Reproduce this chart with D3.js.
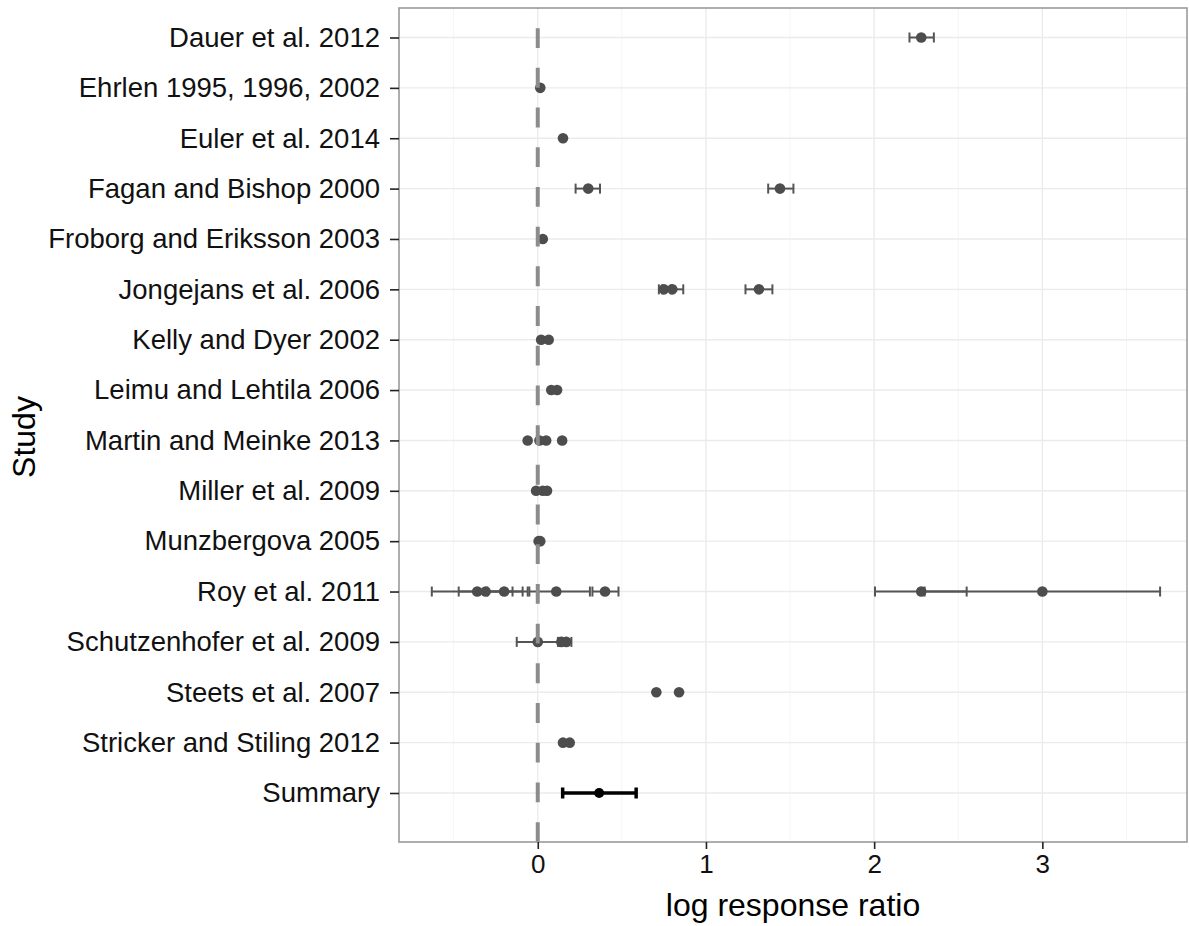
<!DOCTYPE html>
<html>
<head>
<meta charset="utf-8">
<script src="https://cdn.jsdelivr.net/npm/d3@7"></script>
<style>
  html, body { margin: 0; padding: 0; background: #fff; }
  svg { display: block; font-family: "Liberation Sans", Arial, sans-serif; }
</style>
</head>
<body>
<svg id="chart" width="1189" height="926"></svg>
<script>
// Study labels, top to bottom
const studies = [
  "Dauer et al. 2012",
  "Ehrlen 1995, 1996, 2002",
  "Euler et al. 2014",
  "Fagan and Bishop 2000",
  "Froborg and Eriksson 2003",
  "Jongejans et al. 2006",
  "Kelly and Dyer 2002",
  "Leimu and Lehtila 2006",
  "Martin and Meinke 2013",
  "Miller et al. 2009",
  "Munzbergova 2005",
  "Roy et al. 2011",
  "Schutzenhofer et al. 2009",
  "Steets et al. 2007",
  "Stricker and Stiling 2012",
  "Summary"
];

// Individual effect sizes (log response ratio) and their study
const effectStudy = [
  "Dauer et al. 2012",
  "Ehrlen 1995, 1996, 2002",
  "Euler et al. 2014",
  "Fagan and Bishop 2000", "Fagan and Bishop 2000",
  "Froborg and Eriksson 2003",
  "Jongejans et al. 2006", "Jongejans et al. 2006", "Jongejans et al. 2006",
  "Kelly and Dyer 2002", "Kelly and Dyer 2002",
  "Leimu and Lehtila 2006", "Leimu and Lehtila 2006",
  "Martin and Meinke 2013", "Martin and Meinke 2013", "Martin and Meinke 2013", "Martin and Meinke 2013",
  "Miller et al. 2009", "Miller et al. 2009", "Miller et al. 2009",
  "Munzbergova 2005", "Munzbergova 2005",
  "Roy et al. 2011", "Roy et al. 2011", "Roy et al. 2011", "Roy et al. 2011",
  "Roy et al. 2011", "Roy et al. 2011", "Roy et al. 2011",
  "Schutzenhofer et al. 2009", "Schutzenhofer et al. 2009", "Schutzenhofer et al. 2009",
  "Steets et al. 2007", "Steets et al. 2007",
  "Stricker and Stiling 2012", "Stricker and Stiling 2012"
];
const effectValue = [
  2.28,
  0.015,
  0.15,
  0.30, 1.44,
  0.03,
  0.75, 0.80, 1.315,
  0.02, 0.065,
  0.08, 0.115,
  -0.06, 0.01, 0.05, 0.145,
  -0.01, 0.03, 0.055,
  0.005, 0.015,
  -0.36, -0.31, -0.20, 0.11, 0.40, 2.28, 3.00,
  0.00, 0.14, 0.17,
  0.705, 0.84,
  0.15, 0.19
];
// 95% confidence limits (null where no interval is drawn)
const ciLower = [
  2.21,
  null,
  null,
  0.225, 1.37,
  null,
  0.72, 0.74, 1.235,
  null, null,
  null, null,
  null, null, null, null,
  null, null, null,
  null, null,
  -0.63, -0.47, -0.30, -0.05, 0.325, 2.005, 2.30,
  -0.125, 0.12, 0.145,
  null, null,
  null, null
];
const ciUpper = [
  2.355,
  null,
  null,
  0.37, 1.52,
  null,
  0.79, 0.865, 1.395,
  null, null,
  null, null,
  null, null, null, null,
  null, null, null,
  null, null,
  -0.09, -0.15, -0.06, 0.31, 0.48, 2.55, 3.70,
  0.13, 0.165, 0.20,
  null, null,
  null, null
];

// Pooled estimate
const summaryValue = 0.365;
const summaryLower = 0.148;
const summaryUpper = 0.585;

const xTicks = [0, 1, 2, 3];
const xMinorTicks = [-0.5, 0.5, 1.5, 2.5, 3.5];
const xDomain = [-0.825, 3.86];

// Layout
const panel = { left: 399, right: 1187, top: 8, bottom: 842 };

const svg = d3.select("#chart");

const x = d3.scaleLinear().domain(xDomain).range([panel.left, panel.right]);
const y = d3.scalePoint().domain(studies).range([panel.top + 29.5, panel.bottom - 49]);

// Panel background
svg.append("rect")
  .attr("x", panel.left).attr("y", panel.top)
  .attr("width", panel.right - panel.left).attr("height", panel.bottom - panel.top)
  .attr("fill", "#fff");

const grid = svg.append("g");
grid.selectAll("line.minor").data(xMinorTicks).join("line")
  .attr("class", "minor")
  .attr("x1", d => x(d)).attr("x2", d => x(d))
  .attr("y1", panel.top).attr("y2", panel.bottom)
  .attr("stroke", "#f5f5f5").attr("stroke-width", 1);
grid.selectAll("line.vmajor").data(xTicks).join("line")
  .attr("class", "vmajor")
  .attr("x1", d => x(d)).attr("x2", d => x(d))
  .attr("y1", panel.top).attr("y2", panel.bottom)
  .attr("stroke", "#ebebeb").attr("stroke-width", 1.4);
grid.selectAll("line.hmajor").data(studies).join("line")
  .attr("class", "hmajor")
  .attr("x1", panel.left).attr("x2", panel.right)
  .attr("y1", d => y(d)).attr("y2", d => y(d))
  .attr("stroke", "#ebebeb").attr("stroke-width", 1.4);

// Study effects with confidence intervals
const effects = effectValue.map((v, i) => ({
  study: effectStudy[i], value: v, lo: ciLower[i], hi: ciUpper[i]
}));
const withCI = effects.filter(d => d.lo !== null);
const capH = 5;
const eb = svg.append("g").attr("stroke", "#555").attr("stroke-width", 2);
eb.selectAll("line.bar").data(withCI).join("line")
  .attr("x1", d => x(d.lo)).attr("x2", d => x(d.hi))
  .attr("y1", d => y(d.study)).attr("y2", d => y(d.study));
eb.selectAll("line.capl").data(withCI).join("line")
  .attr("class", "capl")
  .attr("x1", d => x(d.lo)).attr("x2", d => x(d.lo))
  .attr("y1", d => y(d.study) - capH).attr("y2", d => y(d.study) + capH);
eb.selectAll("line.capr").data(withCI).join("line")
  .attr("class", "capr")
  .attr("x1", d => x(d.hi)).attr("x2", d => x(d.hi))
  .attr("y1", d => y(d.study) - capH).attr("y2", d => y(d.study) + capH);

svg.append("g").selectAll("circle").data(effects).join("circle")
  .attr("cx", d => x(d.value)).attr("cy", d => y(d.study))
  .attr("r", 5.3).attr("fill", "#4d4d4d");

// Summary estimate
const sy = y("Summary");
const sg = svg.append("g").attr("stroke", "#000").attr("stroke-width", 3.5);
sg.append("line").attr("x1", x(summaryLower)).attr("x2", x(summaryUpper)).attr("y1", sy).attr("y2", sy);
sg.append("line").attr("x1", x(summaryLower)).attr("x2", x(summaryLower)).attr("y1", sy - 5.5).attr("y2", sy + 5.5);
sg.append("line").attr("x1", x(summaryUpper)).attr("x2", x(summaryUpper)).attr("y1", sy - 5.5).attr("y2", sy + 5.5);
svg.append("circle").attr("cx", x(summaryValue)).attr("cy", sy).attr("r", 5).attr("fill", "#000");

// Reference line at zero, drawn bottom-up
svg.append("line")
  .attr("x1", x(0)).attr("x2", x(0))
  .attr("y1", panel.bottom).attr("y2", panel.top)
  .attr("stroke", "#8c8c8c").attr("stroke-width", 4)
  .attr("stroke-dasharray", "19.85,19.85");

// Panel border
svg.append("rect")
  .attr("x", panel.left).attr("y", panel.top)
  .attr("width", panel.right - panel.left).attr("height", panel.bottom - panel.top)
  .attr("fill", "none").attr("stroke", "#9a9a9a").attr("stroke-width", 1.6);

// Axes
const xAxis = d3.axisBottom(x).tickValues(xTicks).tickFormat(d3.format("d")).tickSize(7).tickPadding(6);
const gx = svg.append("g").attr("transform", `translate(0,${panel.bottom})`).call(xAxis);
gx.select(".domain").remove();
gx.selectAll(".tick line").attr("stroke", "#222").attr("stroke-width", 1.6);
gx.selectAll(".tick text").attr("fill", "#111").attr("font-size", 26)
  .attr("font-family", "Liberation Sans, Arial, sans-serif");

const yAxis = d3.axisLeft(y).tickSize(9).tickPadding(10);
const gy = svg.append("g").attr("transform", `translate(${panel.left},0)`).call(yAxis);
gy.select(".domain").remove();
gy.selectAll(".tick line").attr("stroke", "#222").attr("stroke-width", 1.6);
gy.selectAll(".tick text").attr("fill", "#111").attr("font-size", 27.5)
  .attr("font-family", "Liberation Sans, Arial, sans-serif");

// Axis titles
svg.append("text")
  .attr("x", (panel.left + panel.right) / 2).attr("y", 916)
  .attr("text-anchor", "middle").attr("font-size", 32).attr("fill", "#000")
  .text("log response ratio");
svg.append("text")
  .attr("transform", `translate(35,${(panel.top + panel.bottom) / 2 + 12}) rotate(-90)`)
  .attr("text-anchor", "middle").attr("font-size", 32).attr("fill", "#000")
  .text("Study");
</script>
</body>
</html>
